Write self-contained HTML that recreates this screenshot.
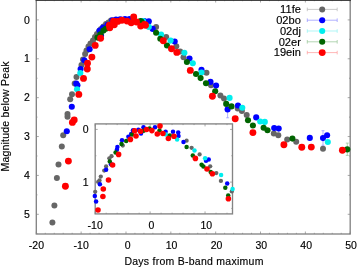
<!DOCTYPE html>
<html><head><meta charset="utf-8"><title>Light curves</title>
<style>
html,body{margin:0;padding:0;background:#fff;}
body{width:357px;height:267px;overflow:hidden;}
svg{display:block;}
svg{filter:brightness(1);}
text{font-family:"Liberation Sans",sans-serif;fill:#000;stroke:#000;stroke-width:0.15px;}
</style></head><body>
<svg width="357" height="267" viewBox="0 0 357 267">
<rect width="357" height="267" fill="#fff"/>
<path d="M36.30 234.0v-2.5M36.30 0.0v2.5M45.27 234.0v-1.2M45.27 0.0v1.2M54.24 234.0v-1.2M54.24 0.0v1.2M63.21 234.0v-1.2M63.21 0.0v1.2M72.17 234.0v-1.2M72.17 0.0v1.2M81.14 234.0v-2.5M81.14 0.0v2.5M90.11 234.0v-1.2M90.11 0.0v1.2M99.08 234.0v-1.2M99.08 0.0v1.2M108.05 234.0v-1.2M108.05 0.0v1.2M117.02 234.0v-1.2M117.02 0.0v1.2M125.99 234.0v-2.5M125.99 0.0v2.5M134.95 234.0v-1.2M134.95 0.0v1.2M143.92 234.0v-1.2M143.92 0.0v1.2M152.89 234.0v-1.2M152.89 0.0v1.2M161.86 234.0v-1.2M161.86 0.0v1.2M170.83 234.0v-2.5M170.83 0.0v2.5M179.80 234.0v-1.2M179.80 0.0v1.2M188.77 234.0v-1.2M188.77 0.0v1.2M197.73 234.0v-1.2M197.73 0.0v1.2M206.70 234.0v-1.2M206.70 0.0v1.2M215.67 234.0v-2.5M215.67 0.0v2.5M224.64 234.0v-1.2M224.64 0.0v1.2M233.61 234.0v-1.2M233.61 0.0v1.2M242.58 234.0v-1.2M242.58 0.0v1.2M251.55 234.0v-1.2M251.55 0.0v1.2M260.51 234.0v-2.5M260.51 0.0v2.5M269.48 234.0v-1.2M269.48 0.0v1.2M278.45 234.0v-1.2M278.45 0.0v1.2M287.42 234.0v-1.2M287.42 0.0v1.2M296.39 234.0v-1.2M296.39 0.0v1.2M305.36 234.0v-2.5M305.36 0.0v2.5M314.33 234.0v-1.2M314.33 0.0v1.2M323.29 234.0v-1.2M323.29 0.0v1.2M332.26 234.0v-1.2M332.26 0.0v1.2M341.23 234.0v-1.2M341.23 0.0v1.2M350.20 234.0v-2.5M350.20 0.0v2.5M36.3 19.90h2.5M350.2 19.90h-2.5M36.3 39.34h1.2M350.2 39.34h-1.2M36.3 58.78h2.5M350.2 58.78h-2.5M36.3 78.22h1.2M350.2 78.22h-1.2M36.3 97.66h2.5M350.2 97.66h-2.5M36.3 117.10h1.2M350.2 117.10h-1.2M36.3 136.54h2.5M350.2 136.54h-2.5M36.3 155.98h1.2M350.2 155.98h-1.2M36.3 175.42h2.5M350.2 175.42h-2.5M36.3 194.86h1.2M350.2 194.86h-1.2M36.3 214.30h2.5M350.2 214.30h-2.5M36.3 233.74h1.2M350.2 233.74h-1.2" stroke="#848484" stroke-width="0.7" fill="none"/>
<rect x="36.3" y="0.0" width="313.9" height="234.0" fill="none" stroke="#848484" stroke-width="1.35"/>
<path d="M35.599999999999994 0H350.9" stroke="#222" stroke-width="1.5"/>
<text x="36.4" y="249.3" font-size="10.5" text-anchor="middle">-20</text>
<text x="81.2" y="249.3" font-size="10.5" text-anchor="middle">-10</text>
<text x="127.6" y="249.3" font-size="10.5" text-anchor="middle">0</text>
<text x="171.6" y="249.3" font-size="10.5" text-anchor="middle">10</text>
<text x="216.5" y="249.3" font-size="10.5" text-anchor="middle">20</text>
<text x="261.3" y="249.3" font-size="10.5" text-anchor="middle">30</text>
<text x="306.2" y="249.3" font-size="10.5" text-anchor="middle">40</text>
<text x="351.0" y="249.3" font-size="10.5" text-anchor="middle">50</text>
<text x="29.8" y="23.5" font-size="10.5" text-anchor="end">0</text>
<text x="29.8" y="62.4" font-size="10.5" text-anchor="end">1</text>
<text x="29.8" y="101.3" font-size="10.5" text-anchor="end">2</text>
<text x="29.8" y="140.1" font-size="10.5" text-anchor="end">3</text>
<text x="29.8" y="179.0" font-size="10.5" text-anchor="end">4</text>
<text x="29.8" y="217.9" font-size="10.5" text-anchor="end">5</text>
<text x="193.9" y="264.5" font-size="10.5" textLength="139" lengthAdjust="spacing" text-anchor="middle">Days from B-band maximum</text>
<text transform="translate(8.9,116.5) rotate(-90)" font-size="10.5" textLength="110" lengthAdjust="spacing" text-anchor="middle">Magnitude below Peak</text>
<path d="M227.6 104V117.8M226.1 104h3M226.1 117.8h3" stroke="#9090ff" stroke-width="0.7" fill="none"/>
<path d="M323 130.7V145.3M321.5 130.7h3M321.5 145.3h3" stroke="#9090ff" stroke-width="0.7" fill="none"/>
<path d="M347.3 143.1V155.4M345.8 143.1h3M345.8 155.4h3" stroke="#94c494" stroke-width="0.7" fill="none"/>
<g fill="#666666"><circle cx="52.4" cy="222.6" r="3.0"/><circle cx="54.4" cy="205.6" r="3.0"/><circle cx="56.9" cy="177.9" r="3.0"/><circle cx="58.5" cy="164.4" r="3.0"/><circle cx="61.8" cy="146.5" r="3.0"/><circle cx="63.2" cy="135.2" r="3.0"/><circle cx="67.5" cy="116.8" r="3.0"/><circle cx="67.5" cy="114" r="3.0"/><circle cx="70.2" cy="99.3" r="3.0"/><circle cx="72" cy="94.2" r="3.0"/><circle cx="74.7" cy="83.6" r="3.0"/><circle cx="76.5" cy="77.1" r="3.0"/><circle cx="81.5" cy="64.9" r="3.0"/><circle cx="85.1" cy="54" r="3.0"/><circle cx="88.5" cy="46.6" r="3.0"/><circle cx="93" cy="40.5" r="3.0"/><circle cx="97" cy="34" r="3.0"/><circle cx="101" cy="29" r="3.0"/><circle cx="106" cy="24" r="3.0"/><circle cx="111" cy="20.5" r="3.0"/><circle cx="83" cy="59.5" r="3.0"/><circle cx="86.5" cy="50.5" r="3.0"/><circle cx="90.5" cy="43.5" r="3.0"/><circle cx="95" cy="37" r="3.0"/><circle cx="99" cy="31.5" r="3.0"/><circle cx="103.5" cy="26.5" r="3.0"/><circle cx="108.5" cy="22.5" r="3.0"/><circle cx="156.1" cy="26.9" r="3.0"/><circle cx="166.2" cy="37" r="3.0"/><circle cx="176.3" cy="46.3" r="3.0"/><circle cx="180.2" cy="51.4" r="3.0"/><circle cx="183.5" cy="57.3" r="3.0"/><circle cx="206.5" cy="72.8" r="3.0"/><circle cx="211" cy="85.3" r="3.0"/><circle cx="220.4" cy="95.6" r="3.0"/><circle cx="224" cy="98.4" r="3.0"/><circle cx="237.7" cy="108.5" r="3.0"/><circle cx="241.9" cy="111.1" r="3.0"/><circle cx="246.7" cy="115" r="3.0"/><circle cx="273.8" cy="133.5" r="3.0"/><circle cx="278.3" cy="135.3" r="3.0"/><circle cx="287.2" cy="139.4" r="3.0"/><circle cx="296.2" cy="141.7" r="3.0"/><circle cx="323" cy="148.7" r="3.0"/></g>
<g fill="#0000ff"><circle cx="66.8" cy="131.2" r="3.05"/><circle cx="71.8" cy="106.7" r="3.05"/><circle cx="76.3" cy="83.6" r="3.05"/><circle cx="77.4" cy="85.2" r="3.05"/><circle cx="80.6" cy="69" r="3.05"/><circle cx="84.3" cy="60.2" r="3.05"/><circle cx="89.6" cy="49.3" r="3.05"/><circle cx="99.6" cy="30.6" r="3.05"/><circle cx="103" cy="27.5" r="3.05"/><circle cx="101" cy="35.6" r="3.05"/><circle cx="107.5" cy="24.8" r="3.05"/><circle cx="112.3" cy="20.3" r="3.05"/><circle cx="116" cy="19.6" r="3.05"/><circle cx="120.2" cy="19.2" r="3.05"/><circle cx="125" cy="19" r="3.05"/><circle cx="129.5" cy="19" r="3.05"/><circle cx="144.3" cy="21" r="3.05"/><circle cx="148.8" cy="21.4" r="3.05"/><circle cx="152.7" cy="28.9" r="3.05"/><circle cx="174.7" cy="41.5" r="3.05"/><circle cx="189.5" cy="58.6" r="3.05"/><circle cx="201.5" cy="69.7" r="3.05"/><circle cx="210.5" cy="81.9" r="3.05"/><circle cx="216.1" cy="85.6" r="3.05"/><circle cx="227.6" cy="109.4" r="3.05"/><circle cx="238" cy="105.5" r="3.05"/><circle cx="256.2" cy="117.4" r="3.05"/><circle cx="274.2" cy="128.1" r="3.05"/><circle cx="278.7" cy="128.6" r="3.05"/><circle cx="309.8" cy="137.9" r="3.05"/><circle cx="323" cy="138.1" r="3.05"/><circle cx="327.1" cy="135.2" r="3.05"/></g>
<g fill="#00eeee"><circle cx="80.3" cy="73" r="3.05"/><circle cx="77" cy="89.2" r="3.05"/><circle cx="143" cy="21.1" r="3.05"/><circle cx="148.8" cy="26.9" r="3.05"/><circle cx="161.1" cy="34.5" r="3.05"/><circle cx="170.6" cy="40.6" r="3.05"/><circle cx="184.4" cy="52.7" r="3.05"/><circle cx="192.8" cy="63.3" r="3.05"/><circle cx="201.5" cy="72.5" r="3.05"/><circle cx="229.6" cy="97.9" r="3.05"/><circle cx="242.3" cy="107.7" r="3.05"/><circle cx="260.2" cy="121.5" r="3.05"/><circle cx="264.8" cy="121.9" r="3.05"/><circle cx="327.8" cy="142" r="3.05"/></g>
<g fill="#006400"><circle cx="100.4" cy="34.2" r="3.05"/><circle cx="97.5" cy="37.6" r="3.05"/><circle cx="103.5" cy="30.6" r="3.05"/><circle cx="105.9" cy="28.7" r="3.05"/><circle cx="140.5" cy="21.1" r="3.05"/><circle cx="141.7" cy="21.9" r="3.05"/><circle cx="156.1" cy="32.8" r="3.05"/><circle cx="160.3" cy="38.7" r="3.05"/><circle cx="167" cy="45.5" r="3.05"/><circle cx="186.9" cy="62" r="3.05"/><circle cx="196" cy="74" r="3.05"/><circle cx="200.6" cy="78.1" r="3.05"/><circle cx="206" cy="83.3" r="3.05"/><circle cx="215.2" cy="91.2" r="3.05"/><circle cx="226.2" cy="103.9" r="3.05"/><circle cx="231.5" cy="106.4" r="3.05"/><circle cx="248" cy="120.3" r="3.05"/><circle cx="252.9" cy="125.5" r="3.05"/><circle cx="263.6" cy="127.7" r="3.05"/><circle cx="267.5" cy="130.2" r="3.05"/><circle cx="292.4" cy="138.6" r="3.05"/><circle cx="347.3" cy="149.4" r="3.05"/></g>
<g fill="#ff0000"><circle cx="65.4" cy="186.2" r="3.45"/><circle cx="68.4" cy="161.1" r="3.45"/><circle cx="72.4" cy="122.4" r="3.45"/><circle cx="74.2" cy="119.9" r="3.45"/><circle cx="78.8" cy="94.4" r="3.45"/><circle cx="83.5" cy="78.4" r="3.45"/><circle cx="87.3" cy="69" r="3.45"/><circle cx="87.5" cy="63.2" r="3.45"/><circle cx="91.9" cy="57.1" r="3.45"/><circle cx="95.2" cy="45.4" r="3.45"/><circle cx="100.6" cy="38.3" r="3.45"/><circle cx="109.8" cy="27.8" r="3.45"/><circle cx="109.3" cy="25.3" r="3.45"/><circle cx="114.3" cy="24.7" r="3.45"/><circle cx="113.5" cy="21.1" r="3.45"/><circle cx="117.7" cy="21.4" r="3.45"/><circle cx="121.9" cy="20.2" r="3.45"/><circle cx="127" cy="21.1" r="3.45"/><circle cx="131.2" cy="22.8" r="3.45"/><circle cx="133.7" cy="16.9" r="3.45"/><circle cx="136.5" cy="22" r="3.45"/><circle cx="140.7" cy="26.1" r="3.45"/><circle cx="144.5" cy="24.5" r="3.45"/><circle cx="145.5" cy="25.2" r="3.45"/><circle cx="163.3" cy="40.7" r="3.45"/><circle cx="171.5" cy="48.8" r="3.45"/><circle cx="176.8" cy="52.4" r="3.45"/><circle cx="190.3" cy="70.4" r="3.45"/><circle cx="212.4" cy="96.3" r="3.45"/><circle cx="235.2" cy="118.7" r="3.45"/><circle cx="252.9" cy="132.6" r="3.45"/><circle cx="283.9" cy="144.8" r="3.45"/><circle cx="301.8" cy="147.3" r="3.45"/><circle cx="311.3" cy="147.1" r="3.45"/><circle cx="342.4" cy="150.3" r="3.45"/></g>
<text x="300.9" y="13.1" font-size="11.1" text-anchor="end">11fe</text>
<path d="M307.3 9.4H337M307.3 7.6v3.6M337.2 7.6v3.6" stroke="#b4b4b4" stroke-width="0.7" fill="none"/>
<circle cx="322.2" cy="9.4" r="3.0" fill="#666666"/>
<text x="300.9" y="23.9" font-size="11.1" text-anchor="end">02bo</text>
<path d="M307.3 20.2H337M307.3 18.4v3.6M337.2 18.4v3.6" stroke="#9090ff" stroke-width="0.7" fill="none"/>
<circle cx="322.2" cy="20.2" r="3.05" fill="#0000ff"/>
<text x="300.9" y="34.7" font-size="11.1" text-anchor="end">02dj</text>
<path d="M307.3 31.0H337M307.3 29.2v3.6M337.2 29.2v3.6" stroke="#90f2f2" stroke-width="0.7" fill="none"/>
<circle cx="322.2" cy="31.0" r="3.05" fill="#00eeee"/>
<text x="300.9" y="45.5" font-size="11.1" text-anchor="end">02er</text>
<path d="M307.3 41.8H337M307.3 40.0v3.6M337.2 40.0v3.6" stroke="#94c494" stroke-width="0.7" fill="none"/>
<circle cx="322.2" cy="41.8" r="3.05" fill="#006400"/>
<text x="300.9" y="56.3" font-size="11.1" text-anchor="end">19ein</text>
<path d="M307.3 52.6H337M307.3 50.8v3.6M337.2 50.8v3.6" stroke="#ff9898" stroke-width="0.7" fill="none"/>
<circle cx="322.2" cy="52.6" r="3.45" fill="#ff0000"/>
<rect x="95.2" y="123.9" width="137.3" height="90.0" fill="#fff" stroke="none"/>
<path d="M95.20 213.9v-2.5M95.20 123.9v2.5M106.18 213.9v-1.2M106.18 123.9v1.2M117.17 213.9v-1.2M117.17 123.9v1.2M128.15 213.9v-1.2M128.15 123.9v1.2M139.14 213.9v-1.2M139.14 123.9v1.2M150.12 213.9v-2.5M150.12 123.9v2.5M161.10 213.9v-1.2M161.10 123.9v1.2M172.09 213.9v-1.2M172.09 123.9v1.2M183.07 213.9v-1.2M183.07 123.9v1.2M194.06 213.9v-1.2M194.06 123.9v1.2M205.04 213.9v-2.5M205.04 123.9v2.5M216.02 213.9v-1.2M216.02 123.9v1.2M227.01 213.9v-1.2M227.01 123.9v1.2M95.2 129.40h2.5M232.5 129.40h-2.5M95.2 155.75h1.2M232.5 155.75h-1.2M95.2 182.10h2.5M232.5 182.10h-2.5M95.2 208.45h1.2M232.5 208.45h-1.2" stroke="#848484" stroke-width="0.7" fill="none"/>
<rect x="95.2" y="123.9" width="137.3" height="90.0" fill="none" stroke="#848484" stroke-width="1.35"/>
<g fill="#666666"><circle cx="106.1" cy="166.5" r="2.15"/><circle cx="104.2" cy="170.6" r="2.15"/><circle cx="100.8" cy="176.6" r="2.15"/><circle cx="99.5" cy="180.4" r="2.15"/><circle cx="98.2" cy="181.9" r="2.15"/><circle cx="95.2" cy="191.8" r="2.15"/><circle cx="111.5" cy="156.2" r="2.15"/><circle cx="109.3" cy="158.3" r="2.15"/><circle cx="122.8" cy="145.6" r="2.15"/><circle cx="186.6" cy="140.7" r="2.15"/><circle cx="191.6" cy="147.8" r="2.15"/><circle cx="199.6" cy="154.4" r="2.15"/><circle cx="210.2" cy="166.3" r="2.15"/><circle cx="216.3" cy="173.1" r="2.15"/><circle cx="220.9" cy="180.9" r="2.15"/><circle cx="231.8" cy="191.4" r="2.15"/></g>
<g fill="#0000ff"><circle cx="131.2" cy="134" r="2.25"/><circle cx="106.1" cy="169.7" r="2.25"/><circle cx="99.9" cy="184.3" r="2.25"/><circle cx="94.8" cy="196" r="2.25"/><circle cx="96.1" cy="201.6" r="2.25"/><circle cx="132.9" cy="130.4" r="2.25"/><circle cx="128.4" cy="136.8" r="2.25"/><circle cx="122" cy="140.2" r="2.25"/><circle cx="117.4" cy="147" r="2.25"/><circle cx="116.9" cy="149.8" r="2.25"/><circle cx="111" cy="164.2" r="2.25"/><circle cx="133.4" cy="130.6" r="2.25"/><circle cx="138.4" cy="129.8" r="2.25"/><circle cx="141" cy="133.5" r="2.25"/><circle cx="143.5" cy="127.3" r="2.25"/><circle cx="155" cy="127.3" r="2.25"/><circle cx="165.6" cy="131.8" r="2.25"/><circle cx="173" cy="131.8" r="2.25"/><circle cx="178.2" cy="132.6" r="2.25"/><circle cx="178.5" cy="136" r="2.25"/><circle cx="183.5" cy="141.9" r="2.25"/><circle cx="206" cy="160.7" r="2.25"/><circle cx="208.7" cy="159.4" r="2.25"/><circle cx="227.2" cy="183.6" r="2.25"/></g>
<g fill="#00eeee"><circle cx="165.9" cy="134.4" r="2.25"/><circle cx="177.1" cy="139.4" r="2.25"/><circle cx="194.5" cy="150.5" r="2.25"/><circle cx="205.1" cy="158.2" r="2.25"/><circle cx="221.1" cy="175.1" r="2.25"/><circle cx="232.6" cy="188.9" r="2.25"/></g>
<g fill="#006400"><circle cx="132.1" cy="134.6" r="2.25"/><circle cx="126.2" cy="140.9" r="2.25"/><circle cx="121.5" cy="143.9" r="2.25"/><circle cx="115.6" cy="152.4" r="2.25"/><circle cx="109.8" cy="161.6" r="2.25"/><circle cx="143.6" cy="130.7" r="2.25"/><circle cx="149.5" cy="128.6" r="2.25"/><circle cx="159.5" cy="130.6" r="2.25"/><circle cx="169.8" cy="135.5" r="2.25"/><circle cx="186.6" cy="147" r="2.25"/><circle cx="192.8" cy="155.5" r="2.25"/><circle cx="201.6" cy="164.7" r="2.25"/><circle cx="203.4" cy="166.5" r="2.25"/><circle cx="210.7" cy="171.9" r="2.25"/><circle cx="225.3" cy="187.7" r="2.25"/><circle cx="228.2" cy="195.5" r="2.25"/></g>
<g fill="#ff0000"><circle cx="112.6" cy="165" r="2.8"/><circle cx="108.5" cy="180" r="2.8"/><circle cx="103.3" cy="189" r="2.8"/><circle cx="102.9" cy="196.5" r="2.8"/><circle cx="98" cy="210" r="2.8"/><circle cx="134.6" cy="130.8" r="2.8"/><circle cx="136" cy="136" r="2.8"/><circle cx="130.4" cy="139.4" r="2.8"/><circle cx="118.6" cy="154.4" r="2.8"/><circle cx="140.5" cy="131.2" r="2.8"/><circle cx="146.5" cy="129.5" r="2.8"/><circle cx="151.9" cy="130.6" r="2.8"/><circle cx="160" cy="126.1" r="2.8"/><circle cx="157.3" cy="134" r="2.8"/><circle cx="162.9" cy="133.5" r="2.8"/><circle cx="168.4" cy="138.5" r="2.8"/><circle cx="174" cy="136.3" r="2.8"/><circle cx="195.4" cy="158.4" r="2.8"/><circle cx="207" cy="169" r="2.8"/><circle cx="212.4" cy="173.8" r="2.8"/><circle cx="228.4" cy="198.7" r="2.8"/></g>
<text x="95.2" y="229" font-size="10.5" text-anchor="middle">-10</text>
<text x="151.4" y="229" font-size="10.5" text-anchor="middle">0</text>
<text x="206.3" y="229" font-size="10.5" text-anchor="middle">10</text>
<text x="88.5" y="133.1" font-size="10.5" text-anchor="end">0</text>
<text x="88.5" y="185.8" font-size="10.5" text-anchor="end">1</text>
</svg></body></html>
